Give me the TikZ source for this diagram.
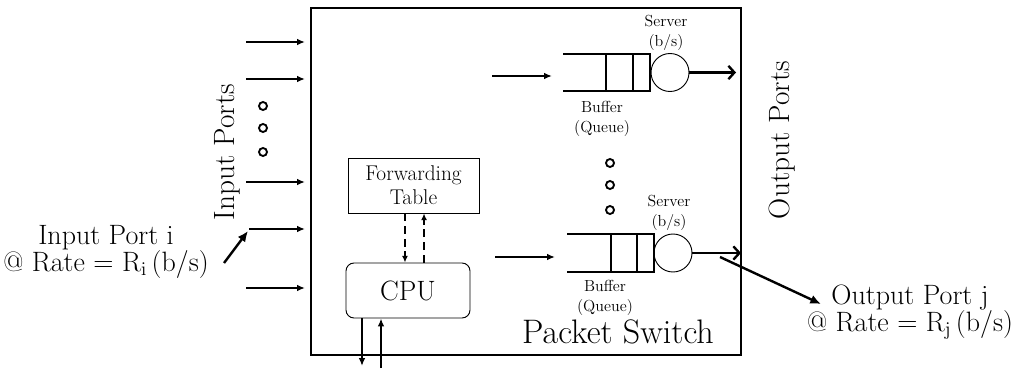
\documentclass[tikz,border=0pt]{standalone}
\usetikzlibrary{arrows.meta}
\begin{document}
\begin{tikzpicture}[x=0.75pt,y=-0.75pt,
  inarr/.style={line width=1.5pt,-{Latex[length=6pt,width=5pt]}},
  outarr/.style={line width=1.8pt,-{Straight Barb[length=4.5pt,width=10pt,line width=1.8pt]}},
  ptr/.style={line width=1.8pt,-{Latex[length=8pt,width=7pt]}},
  dasharr/.style={line width=1.5pt,dash pattern=on 6pt off 3.5pt,-{Latex[length=5pt,width=4.5pt]}},
  qline/.style={line width=2pt},
  dotc/.style={circle,draw,line width=1.4pt,minimum size=6pt,inner sep=0pt},
  server/.style={circle,draw,line width=0.7pt,minimum size=28.5pt,inner sep=0pt},
  big/.style={font=\fontsize{21}{20}\selectfont},
  vert/.style={font=\fontsize{22}{24}\selectfont,rotate=90},
  small/.style={font=\fontsize{12}{14.5}\selectfont,align=center},
]
\useasboundingbox (0,0) rectangle (1016,370);
% main switch box
\node[draw,line width=1.8pt,minimum width=322.5pt,minimum height=260.25pt,inner sep=0pt] (sw) at (526,181.5) {};
\node[font=\fontsize{25.5}{28}\selectfont,anchor=base] (ps) at (618,343) {Packet Switch};
% input arrows
\foreach \y/\x [count=\i] in {42/246,79/246,182/246,229/249,288/246}{
  \coordinate (ia\i) at (\x,\y);
  \coordinate (ib\i) at (305,\y);
  \draw[inarr] (ia\i) -- (ib\i);
}
\foreach \y [count=\i] in {106,128,152}{\node[dotc] (ld\i) at (263,\y) {};}
\node[vert] (inports) at (227,152) {Input Ports};
\node[big,align=center] (inlab) at (106,252) {Input Port i\\@ Rate = R$_\mathrm{i}$\,(b/s)};
\coordinate (pi1) at (224,263);
\coordinate (pi2) at (248,231);
\draw[ptr] (pi1) -- (pi2);
% forwarding table and CPU
\node[draw,line width=0.7pt,minimum width=98.25pt,minimum height=41.25pt,align=center,
  font=\fontsize{16}{18}\selectfont] (fwd) at (413.5,185.5) {Forwarding\\Table};
\node[draw,line width=0.7pt,rounded corners=6pt,minimum width=93pt,minimum height=41.25pt,
  font=\fontsize{21}{22}\selectfont] (cpu) at (408,290.5) {CPU};
\draw[dasharr] ([xshift=-6.4pt]fwd.south) -- ([xshift=-6.4pt]fwd.south |- cpu.north);
\draw[dasharr] ([xshift=7.9pt]fwd.south |- cpu.north) -- ([xshift=7.9pt]fwd.south);
\coordinate (cd) at (362,366);
\coordinate (cu) at (381,368);
\draw[inarr] ([xshift=-34.5pt]cpu.south) -- (cd);
\draw[inarr] (cu) -- ([xshift=-20.25pt]cpu.south);
% upper queue
\draw[qline] (563,54) -- (650,54) -- (650,91) -- (563,91);
\draw[qline] (606,54) -- (606,91) (633,54) -- (633,91);
\node[server] (s1) at (670,72.5) {};
\coordinate (q1in) at (492,76);
\coordinate (q1end) at (552,76);
\draw[inarr] (q1in) -- (q1end);
\coordinate (o1) at (736,72.5);
\draw[outarr] (s1.east) -- (o1);
\node[small] (sv1) at (666,33) {Server\\(b/s)};
\node[small] (bf1) at (602,119) {Buffer\\(Queue)};
% dots between queues
\foreach \y [count=\i] in {163,185,210}{\node[dotc] (md\i) at (610,\y) {};}
% lower queue
\draw[qline] (567,234) -- (654,234) -- (654,272) -- (567,272);
\draw[qline] (611,234) -- (611,272) (637,234) -- (637,272);
\node[server] (s2) at (673,253) {};
\coordinate (q2in) at (495,257);
\coordinate (q2end) at (555,257);
\draw[inarr] (q2in) -- (q2end);
\coordinate (o2) at (741,253);
\draw[outarr] (s2.east) -- (o2);
\node[small] (sv2) at (669,213) {Server\\(b/s)};
\node[small] (bf2) at (605,298) {Buffer\\(Queue)};
% output labels
\node[vert] (outports) at (782,140) {Output Ports};
\coordinate (pj1) at (720,257);
\coordinate (pj2) at (821,304);
\draw[ptr] (pj1) -- (pj2);
\node[big,align=center] (outlab) at (910,312) {Output Port j\\@ Rate = R$_\mathrm{j}$\,(b/s)};
\end{tikzpicture}
\end{document}
